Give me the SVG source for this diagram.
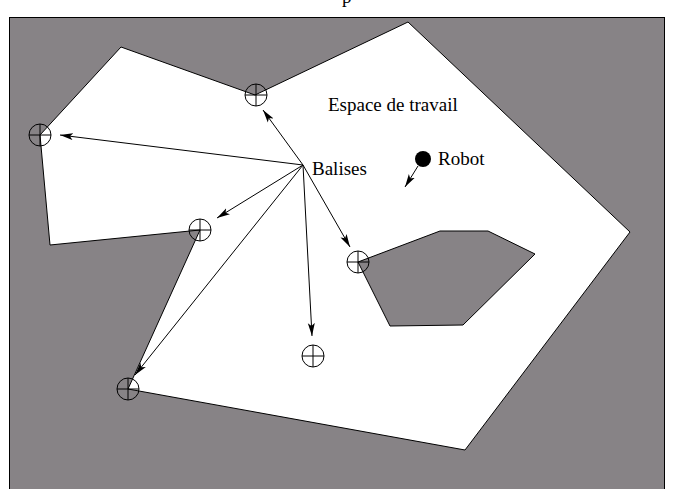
<svg xmlns="http://www.w3.org/2000/svg" width="673" height="489" viewBox="0 0 673 489">
<style>
.lbl{font-family:"Liberation Serif","DejaVu Serif",serif;font-size:19px;fill:#000}
.edge{stroke:#000;stroke-width:1;fill:none}
.bal circle{fill:none;stroke:#000;stroke-width:1}
.bal path{stroke:#000;stroke-width:1}
</style>
<defs>
<marker id="ah" markerWidth="14" markerHeight="8" refX="13" refY="4" orient="auto" markerUnits="userSpaceOnUse">
<path d="M0,0.5 L13,4 L0,7.5 L3,4 Z" fill="#000"/>
</marker>
</defs>
<rect width="673" height="489" fill="#fff"/>
<text class="lbl" x="342" y="3">p</text>
<g id="frame">
<rect x="9.5" y="17.5" width="655" height="480" fill="#878386" stroke="#000" stroke-width="1"/>
</g>
<g id="workspace">
<path d="M121,47 L255,95 L408,22 L630,232 L465,450 L128,389 L200,230 L50,245 L40,135 Z" fill="#fff" stroke="#000" stroke-width="1"/>
<path d="M358,262 L440,231 L488,231 L535,254 L463,325 L390,326 Z" fill="#878386" stroke="#000" stroke-width="1"/>
</g>
<g id="balises" class="bal">
<g id="b1"><circle cx="40" cy="135" r="11"/><path d="M29,135 H51 M40,124 V146"/></g>
<g id="b2"><circle cx="256" cy="95" r="11"/><path d="M245,95 H267 M256,84 V106"/></g>
<g id="b3"><circle cx="200" cy="230" r="11"/><path d="M189,230 H211 M200,219 V241"/></g>
<g id="b4"><circle cx="358" cy="262" r="11"/><path d="M347,262 H369 M358,251 V273"/></g>
<g id="b5"><circle cx="313" cy="356" r="11"/><path d="M302,356 H324 M313,345 V367"/></g>
<g id="b6"><circle cx="128" cy="389" r="11"/><path d="M117,389 H139 M128,378 V400"/></g>
</g>
<g id="connectors">
<line class="edge" x1="303" y1="165" x2="60" y2="135" marker-end="url(#ah)"/>
<line class="edge" x1="303" y1="165" x2="263" y2="110" marker-end="url(#ah)"/>
<line class="edge" x1="303" y1="165" x2="217" y2="218" marker-end="url(#ah)"/>
<line class="edge" x1="303" y1="165" x2="350" y2="247" marker-end="url(#ah)"/>
<line class="edge" x1="303" y1="165" x2="312" y2="336" marker-end="url(#ah)"/>
<line class="edge" x1="303" y1="165" x2="135" y2="375" marker-end="url(#ah)"/>
<line class="edge" x1="418" y1="166" x2="405" y2="187" marker-end="url(#ah)"/>
</g>
<g id="robot">
<circle cx="423" cy="159" r="8" fill="#000"/>
<text class="lbl" x="438" y="165">Robot</text>
</g>
<g id="labels">
<text class="lbl" x="312" y="175">Balises</text>
<text class="lbl" x="328" y="111">Espace de travail</text>
</g>
</svg>
